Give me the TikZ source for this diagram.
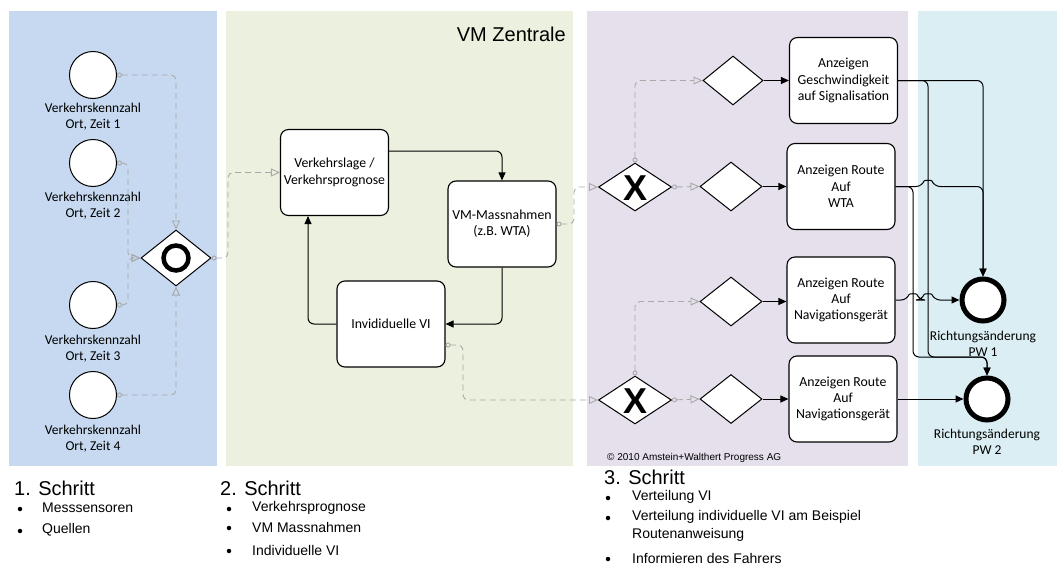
\documentclass[tikz,border=0pt]{standalone}
\usepackage{fontspec}
\setmainfont{Carlito}
\newfontfamily\arial{Liberation Sans}
\usetikzlibrary{arrows.meta,shapes.geometric}
\definecolor{pblue}{RGB}{198,217,240}
\definecolor{pgreen}{RGB}{235,241,222}
\definecolor{plav}{RGB}{229,224,236}
\definecolor{pcyan}{RGB}{219,238,243}
\definecolor{dgray}{RGB}{168,168,168}
\begin{document}
\begin{tikzpicture}[x=1pt,y=-1pt,
  txt/.style={font=\fontsize{13.5}{16}\selectfont, align=center, inner sep=0},
  startev/.style={circle, draw, fill=white, line width=1pt, minimum size=47pt, inner sep=0},
  endev/.style={circle, draw, fill=white, line width=5pt, minimum size=42pt, inner sep=0},
  gw/.style={diamond, draw, fill=white, line width=1pt, inner sep=0},
  task/.style={rectangle, rounded corners=8pt, draw, fill=white, line width=1.1pt, minimum width=108pt, minimum height=86pt, inner sep=2pt, align=center, font=\fontsize{13.8}{16.3}\selectfont},
  msg/.style={draw=dgray, dash pattern=on 6pt off 4pt, line width=0.9pt, rounded corners=5pt, {Circle[open,length=5pt,width=5pt]}-{Triangle[open,length=9pt,width=8pt]}},
  flow/.style={draw, line width=1pt, rounded corners=6pt, -{Triangle[length=8pt,width=7pt]}},
  head/.style={font=\arial\fontsize{20}{24}\selectfont, anchor=west, inner sep=0},
  item/.style={font=\arial\fontsize{14}{18}\selectfont, anchor=west, inner sep=0},
  bul/.style={circle, fill, inner sep=0, minimum size=4.5pt}
]
\useasboundingbox (0,0) rectangle (1057,565);
\fill[white] (0,0) rectangle (1057,565);
% panels
\fill[pblue] (9,11) rectangle (217,466);
\fill[pgreen] (226,11) rectangle (573,466);
\fill[plav] (587,11) rectangle (908,466);
\fill[pcyan] (918,11) rectangle (1057,466);
\node[font=\arial\fontsize{20}{24}\selectfont, anchor=east, inner sep=0] (title) at (566,34) {VM Zentrale};

% start events
\node[startev] (c1) at (93,75) {};
\node[startev] (c2) at (93,163) {};
\node[startev] (c3) at (93,305) {};
\node[startev] (c4) at (93,395) {};
\node[txt] (l1) at (93,117) {Verkehrskennzahl\\Ort, Zeit 1};
\node[txt] (l2) at (93,206) {Verkehrskennzahl\\Ort, Zeit 2};
\node[txt] (l3) at (93,349) {Verkehrskennzahl\\Ort, Zeit 3};
\node[txt] (l4) at (93,439) {Verkehrskennzahl\\Ort, Zeit 4};

% inclusive gateway
\node[gw, minimum width=70pt, minimum height=56pt] (g0) at (176,258) {};
\draw[line width=4.5pt] (g0.center) circle (12.5pt);

% green tasks
\node[task] (vl) at (334.5,172.5) {Verkehrslage /\\Verkehrsprognose};
\node[task] (vm) at (502,224) {VM-Massnahmen\\(z.B. WTA)};
\node[task] (iv) at (391,324) {Invididuelle VI};

% lavender gateways
\node[gw, minimum width=73pt, minimum height=48pt] (x1) at (635,187) {};
\node[gw, minimum width=73pt, minimum height=48pt] (x2) at (635,400) {};
\node[font=\arial\bfseries\fontsize{36}{36}\selectfont, inner sep=0] (xl1) at (635,188) {X};
\node[font=\arial\bfseries\fontsize{36}{36}\selectfont, inner sep=0] (xl2) at (635,401) {X};
\node[gw, minimum width=60pt, minimum height=49pt] (d1) at (733,80.5) {};
\node[gw, minimum width=62pt, minimum height=49pt] (d2) at (731,186.5) {};
\node[gw, minimum width=62pt, minimum height=49pt] (d3) at (731,301.5) {};
\node[gw, minimum width=62pt, minimum height=49pt] (d4) at (731,399) {};

% lavender tasks
\node[task] (bA) at (843.5,80.5) {Anzeigen\\Geschwindigkeit\\auf Signalisation};
\node[task] (bB) at (841,186.5) {Anzeigen Route\\Auf\\WTA};
\node[task] (bC) at (841,300) {Anzeigen Route\\Auf\\Navigationsgerät};
\node[task] (bD) at (843,399) {Anzeigen Route\\Auf\\Navigationsgerät};

% end events
\node[endev] (e1) at (983,300) {};
\node[endev] (e2) at (987,399) {};
\node[txt] (le1) at (983,343.5) {Richtungsänderung\\PW 1};
\node[txt] (le2) at (987,442) {Richtungsänderung\\PW 2};

\node[font=\arial\fontsize{10}{12}\selectfont, anchor=west, inner sep=0] (copy) at (607,458) {\textcopyright\ 2010 Amstein+Walthert Progress AG};

% message flows (dashed)
\draw[msg] (c1.east) -| (g0.north);
\draw[msg] (c2.east) -- (128,163) |- (g0.west);
\draw[msg] (c3.east) -- (128,305) |- (g0.west);
\draw[msg] (c4.east) -| (g0.south);
\draw[msg] (g0.east) -- (228,258) |- (vl.west);
\draw[msg] (vm.east) -- (574,224) |- (x1.west);
\draw[msg] ([yshift=-21pt]iv.east) -- (463,345) |- (x2.west);
\draw[msg] (x1.north) |- (d1.west);
\draw[msg] (x1.east) -- (d2.west);
\draw[msg] (x2.north) |- (d3.west);
\draw[msg] (x2.east) -- (d4.west);

% sequence flows
\draw[flow] ([yshift=21.5pt]vl.east) -| (vm.north);
\draw[flow] (vm.south) |- (iv.east);
\draw[flow] (iv.west) -| ([xshift=-26.5pt]vl.south);
\draw[flow] (d1.east) -- (bA.west);
\draw[flow] (d2.east) -- (bB.west);
\draw[flow] (d3.east) -- (d3.east -| bC.west);
\draw[flow] (d4.east) -- (bD.west);

\draw[flow] (bA.east) -| (e1.north);
\draw[flow] (bA.east) -- (928,80.5) -- (928,357) -| (e2.north);
\draw[flow] (bB.east) -- (922,186.5) .. controls (924.5,180) and (931.5,180) .. (934,186.5) -- (983,186.5) -- (e1.north);
\draw[flow] (bB.east) -- (913,186.5) -- (913,357) -| (e2.north);
\draw[flow] (bC.east) -- (907,300) .. controls (909.5,293.5) and (916.5,293.5) .. (919,300) -- (922,300) .. controls (924.5,293.5) and (931.5,293.5) .. (934,300) -- (e1.west);
\draw[flow] (bD.east) -- (e2.west);

% bottom text
\node[head] (s1) at (14,488) {1. Schritt};
\node[bul] (b11) at (20,509) {};
\node[item] (t11) at (42,508) {Messsensoren};
\node[bul] (b12) at (20,531) {};
\node[item] (t12) at (42,530) {Quellen};

\node[head] (s2) at (220,488) {2. Schritt};
\node[bul] (b21) at (229,509) {};
\node[item] (t21) at (252,508) {Verkehrsprognose};
\node[bul] (b22) at (229,528) {};
\node[item] (t22) at (252,527) {VM Massnahmen};
\node[bul] (b23) at (229,551) {};
\node[item] (t23) at (252,550) {Individuelle VI};

\node[head] (s3) at (604,477) {3. Schritt};
\node[bul] (b31) at (608,498) {};
\node[item] (t31) at (632,497) {Verteilung VI};
\node[bul] (b32) at (608,518) {};
\node[item] (t32) at (632,517) {Verteilung individuelle VI am Beispiel};
\node[item] (t33) at (632,535) {Routenanweisung};
\node[bul] (b34) at (608,559) {};
\node[item] (t34) at (632,558) {Informieren des Fahrers};
\end{tikzpicture}
\end{document}
